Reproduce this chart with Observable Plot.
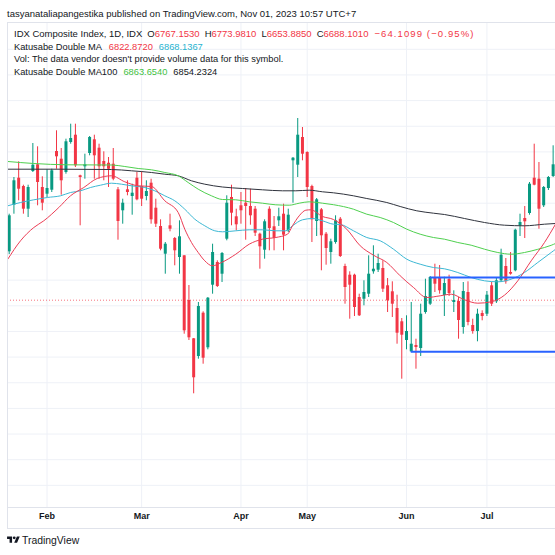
<!DOCTYPE html>
<html><head><meta charset="utf-8">
<script src="https://cdn.jsdelivr.net/npm/d3@7"></script>
<script src="https://cdn.jsdelivr.net/npm/@observablehq/plot@0.6"></script>
<style>
html,body{margin:0;padding:0;background:#fff;}
#wrap{position:relative;width:555px;height:555px;overflow:hidden;font-family:"Liberation Sans",Arial,sans-serif;color:#131722;}
#wrap > svg{position:absolute;left:0;top:0;}
.t{position:absolute;white-space:nowrap;line-height:12px;height:12px;font-size:9.3px;}
.r{color:#F23645}.c{color:#1fb3cf}.g{color:#3fbf3f}
.gp{margin-left:5px}
.chg{margin-left:6px;letter-spacing:1.1px}
.frame{position:absolute;left:7px;top:22px;width:600px;height:507px;box-sizing:border-box;border:1px solid #e0e3eb;pointer-events:none;}
.sep{position:absolute;left:7px;top:507px;width:548px;height:1px;background:#e0e3eb;}
.logo{position:absolute;left:7px;top:535px;height:12px;font-size:10.4px;line-height:12px;white-space:nowrap;}
.logo svg{vertical-align:-1px;margin-right:2px;}
</style></head><body><div id="wrap"></div>
<script>
// ---- data (daily IDX Composite, Jan–Jul 2023) ----
const open = [6784.9, 6878.1, 6932.1, 6915.5, 6870.1, 6945.5, 6958.9, 6913.5, 6900.1, 6908.1,
 6985.5, 6970.1, 6943.5, 7003.5, 7018.1, 6936.9, 6954.9, 6981.5, 7008.9, 6992.1,
 6965.5, 6962.0, 6960.1, 6908.9, 6866.9, 6908.9, 6895.5, 6932.1, 6915.5, 6895.5,
 6922.1, 6872.1, 6835.5, 6780.1, 6836.9, 6811.5, 6773.5, 6776.9, 6687.5, 6610.9,
 6575.5, 6662.1, 6592.9, 6718.1, 6763.5, 6740.1, 6810.1, 6893.5, 6854.9, 6876.9,
 6882.1, 6875.5, 6870.1, 6820.1, 6788.1, 6870.1, 6834.9, 6846.9, 6860.1, 6826.9,
 6966.9, 6958.1, 7013.5, 6983.5, 6915.5, 6845.5, 6868.9, 6820.1, 6783.5, 6803.5,
 6850.1, 6755.5, 6738.1, 6738.1, 6693.5, 6690.1, 6700.1, 6744.9, 6748.1, 6751.5,
 6716.9, 6704.9, 6671.5, 6644.9, 6607.5, 6584.9, 6597.5, 6591.5, 6663.5, 6680.1,
 6733.5, 6733.5, 6697.5, 6729.5, 6683.5, 6685.5, 6633.5, 6703.5, 6637.5, 6625.5,
 6661.5, 6660.1, 6716.9, 6684.9, 6726.9, 6755.5, 6743.5, 6746.9, 6836.9, 6851.5,
 6861.5, 6932.1, 6930.1, 6876.9, 6911.5, 6935.5];
const high = [6860.1, 6933.5, 6964.9, 6918.1, 6918.1, 7001.5, 6994.9, 6934.9, 6948.9, 6950.1,
 7026.9, 6991.5, 7010.1, 7040.1, 7040.1, 6938.1, 6980.1, 7015.5, 7018.1, 7000.1,
 6984.9, 6973.5, 6991.5, 6913.5, 6890.1, 6926.9, 6920.1, 6943.5, 6944.9, 6926.9,
 6930.1, 6890.1, 6848.9, 6803.5, 6860.1, 6813.5, 6846.9, 6776.9, 6717.5, 6611.5,
 6683.5, 6664.9, 6693.5, 6800.1, 6766.9, 6783.5, 6896.9, 6918.1, 6870.1, 6903.5,
 6911.5, 6910.1, 6875.5, 6822.1, 6848.9, 6874.9, 6855.5, 6872.1, 6880.1, 6870.1,
 6973.5, 7051.5, 7033.5, 6984.9, 6918.1, 6891.5, 6871.5, 6823.5, 6810.1, 6856.9,
 6853.5, 6760.1, 6744.9, 6740.1, 6700.1, 6726.9, 6776.9, 6796.9, 6780.1, 6766.9,
 6731.5, 6724.9, 6698.1, 6651.5, 6656.9, 6683.5, 6610.1, 6680.1, 6730.1, 6735.5,
 6760.1, 6757.5, 6734.1, 6738.1, 6706.9, 6693.5, 6723.5, 6724.9, 6650.1, 6670.1,
 6666.9, 6705.5, 6723.5, 6731.5, 6790.1, 6771.5, 6783.5, 6830.1, 6860.1, 6875.5,
 6923.5, 7000.1, 6963.5, 6915.5, 6935.5, 6996.9];
const low = [6779.5, 6860.1, 6886.9, 6860.1, 6853.5, 6943.5, 6876.9, 6866.9, 6893.5, 6903.5,
 6950.1, 6898.1, 6940.1, 7000.1, 6953.5, 6836.9, 6930.1, 6976.9, 6930.1, 6930.1,
 6926.9, 6913.5, 6926.9, 6808.1, 6840.1, 6896.9, 6858.1, 6886.9, 6875.5, 6886.9,
 6840.1, 6833.5, 6786.9, 6740.1, 6824.9, 6756.9, 6740.1, 6620.1, 6607.5, 6500.9,
 6570.1, 6560.1, 6588.9, 6700.1, 6713.5, 6723.5, 6806.9, 6836.9, 6826.9, 6840.1,
 6808.1, 6838.1, 6815.5, 6750.1, 6770.1, 6786.9, 6786.9, 6835.5, 6786.9, 6823.5,
 6882.1, 6933.5, 6966.9, 6893.5, 6803.5, 6815.5, 6746.9, 6758.1, 6760.1, 6800.1,
 6773.5, 6680.1, 6650.1, 6655.5, 6655.5, 6676.9, 6693.5, 6740.1, 6743.5, 6703.5,
 6663.5, 6653.5, 6600.1, 6530.1, 6588.9, 6583.5, 6550.1, 6575.5, 6660.1, 6677.5,
 6703.5, 6700.1, 6655.5, 6695.5, 6663.5, 6610.1, 6620.1, 6636.9, 6620.1, 6604.9,
 6646.9, 6655.5, 6675.5, 6681.5, 6723.5, 6720.1, 6738.1, 6744.9, 6815.5, 6811.5,
 6858.1, 6916.9, 6830.1, 6873.5, 6907.5, 6933.5];
const close = [6856.9, 6926.9, 6910.1, 6870.1, 6913.5, 6958.1, 6923.5, 6882.1, 6911.5, 6946.9,
 6974.9, 6926.9, 7004.9, 7011.5, 6956.9, 6933.5, 6958.9, 7013.5, 6976.9, 6954.9,
 6954.9, 6950.0, 6930.1, 6845.5, 6882.1, 6903.5, 6902.1, 6888.9, 6890.1, 6905.5,
 6848.9, 6840.1, 6790.1, 6800.1, 6830.1, 6786.9, 6814.9, 6626.9, 6612.9, 6532.9,
 6675.5, 6572.1, 6692.1, 6783.5, 6715.5, 6781.5, 6882.1, 6862.1, 6838.9, 6866.9,
 6875.5, 6856.9, 6822.1, 6794.9, 6844.9, 6831.5, 6811.5, 6854.9, 6818.1, 6858.1,
 6972.1, 7018.1, 6980.1, 6913.5, 6848.9, 6888.9, 6816.9, 6791.5, 6804.9, 6846.9,
 6775.5, 6713.5, 6718.1, 6673.5, 6656.9, 6703.5, 6740.1, 6750.1, 6761.5, 6710.1,
 6686.9, 6680.1, 6622.1, 6618.1, 6625.5, 6600.1, 6593.5, 6660.1, 6695.5, 6733.5,
 6720.1, 6706.9, 6721.5, 6701.5, 6687.5, 6647.5, 6705.5, 6643.5, 6625.5, 6660.1,
 6655.5, 6698.1, 6680.1, 6726.9, 6778.1, 6724.9, 6740.1, 6828.1, 6843.5, 6844.9,
 6920.1, 6918.1, 6870.1, 6913.5, 6933.5, 6958.9];

// moving averages, sampled (bar index, value)
const maFastX = [-0.3, 2.39, 5.2, 7.31, 10.49, 12.96, 15.77, 18.6, 21.63, 24.44, 27.27, 30.08, 32.9, 35.73, 37.12, 38.54, 39.96, 41.35, 42.94, 44.88, 47.91, 50.74, 53.55, 56.36, 58.84, 59.89, 61.31, 62.71, 63.76, 66.24, 68.56, 71.37, 74.21, 77.02, 79.83, 82.66, 85.48, 88.29, 91.12, 93.45, 96.26, 99.07, 101.9, 104.71, 107.53, 110.36, 113.17, 115.5];
const maFastY = [6770.1, 6806.9, 6833.5, 6846.9, 6873.5, 6896.9, 6913.5, 6931.5, 6936.9, 6924.9, 6916.9, 6915.5, 6886.9, 6863.5, 6830.1, 6803.5, 6783.5, 6766.9, 6756.9, 6763.5, 6780.1, 6800.1, 6810.1, 6813.5, 6820.1, 6836.9, 6856.9, 6868.1, 6868.9, 6855.5, 6849.5, 6830.1, 6796.9, 6778.1, 6763.5, 6736.9, 6713.5, 6693.5, 6696.9, 6700.1, 6688.9, 6682.1, 6684.9, 6698.1, 6726.9, 6766.9, 6803.5, 6840.1];
const maSlowX = [-0.3, 2.39, 5.2, 8.03, 10.85, 12.96, 15.07, 17.19, 19.3, 21.63, 23.74, 25.86, 28.67, 30.78, 32.9, 35.01, 37.12, 39.24, 41.35, 43.47, 45.09, 47.91, 50.74, 53.55, 56.36, 58.48, 59.89, 62.01, 64.12, 66.24, 68.56, 69.98, 72.79, 75.6, 78.44, 81.25, 84.06, 86.89, 89.7, 92.03, 94.84, 97.67, 100.49, 103.3, 106.13, 108.94, 111.75, 114.59, 115.5];
const maSlowY = [6876.9, 6883.5, 6888.9, 6893.5, 6896.9, 6903.5, 6906.9, 6913.5, 6918.1, 6922.1, 6920.1, 6916.9, 6913.5, 6906.9, 6896.9, 6886.9, 6870.1, 6850.1, 6836.9, 6826.9, 6824.9, 6826.9, 6828.9, 6828.9, 6826.9, 6826.9, 6836.9, 6848.9, 6851.5, 6846.9, 6840.1, 6839.5, 6826.9, 6813.5, 6806.9, 6790.1, 6770.1, 6760.1, 6753.5, 6750.9, 6743.5, 6733.5, 6726.9, 6724.9, 6730.1, 6743.5, 6763.5, 6783.5, 6789.9];
const ma100X = [-0.3, 5.2, 12.26, 21.63, 24.44, 27.27, 30.08, 32.9, 35.73, 37.84, 39.96, 42.77, 45.09, 47.91, 50.74, 53.55, 56.36, 59.2, 61.31, 63.42, 66.24, 68.56, 72.79, 75.6, 78.44, 81.25, 84.06, 86.89, 89.7, 92.03, 94.84, 97.67, 100.49, 103.3, 106.13, 108.94, 111.75, 114.59, 115.5];
const ma100Y = [6965.5, 6961.5, 6958.9, 6958.5, 6955.5, 6951.5, 6948.9, 6943.5, 6936.9, 6923.5, 6910.1, 6896.9, 6889.5, 6888.9, 6884.9, 6882.1, 6878.9, 6878.1, 6882.1, 6884.9, 6882.1, 6879.1, 6870.1, 6860.1, 6853.5, 6843.5, 6830.1, 6820.1, 6813.5, 6810.1, 6803.5, 6798.1, 6790.1, 6783.5, 6780.1, 6783.5, 6789.9, 6797.9, 6801.5];
const ma200X = [-0.3, 10.85, 21.63, 25.86, 30.08, 32.9, 35.73, 38.54, 41.35, 45.09, 49.32, 53.55, 57.78, 60.59, 63.42, 66.24, 68.56, 72.79, 75.6, 79.83, 82.66, 86.17, 89.7, 92.03, 96.26, 100.49, 104.71, 108.94, 113.17, 115.5];
const ma200Y = [6950.1, 6950.1, 6949.5, 6946.9, 6943.5, 6940.1, 6936.9, 6926.9, 6920.1, 6914.5, 6911.5, 6908.9, 6906.9, 6906.9, 6908.1, 6904.9, 6902.9, 6896.9, 6891.5, 6883.5, 6875.5, 6866.9, 6862.1, 6859.5, 6851.5, 6843.5, 6838.1, 6836.9, 6840.1, 6841.5];

// time axis
const monthLabels = ["Feb", "Mar", "Apr", "May", "Jun", "Jul"];
const monthIdx = [8, 28, 49, 63, 84, 101];

// price grid, last price, drawn horizontal levels
const gridLevels = [7189.9, 7138.6, 7087.3, 7036.0, 6984.7, 6933.4, 6882.1, 6830.8, 6779.5, 6728.2,
 6676.9, 6625.6, 6574.3, 6523.0, 6471.7, 6420.4, 6369.1, 6317.8];
const lastClose = 6688.1;
const levelPrices = [6733.5, 6584.9];
const levelStart = [89, 85];

// ---- chart ----
const xDomain = [-0.36, 115.5];
const yDomain = [6273.5, 7243.5];
const UP = "#089981", DOWN = "#F23645";
const candles = open.map((o, i) => ({i, o, h: high[i], l: low[i], c: close[i], col: close[i] >= o ? UP : DOWN}));
const pts = (xs, ys) => xs.map((x, k) => ({x, y: ys[k]}));

const chart = Plot.plot({
  width: 555, height: 555,
  marginTop: 22, marginBottom: 48, marginLeft: 7, marginRight: 0,
  x: {domain: xDomain, axis: null},
  y: {domain: yDomain, axis: null},
  color: {type: "identity"},
  style: {fontFamily: "'Liberation Sans', Arial, sans-serif", background: "#fff", overflow: "visible"},
  marks: [
    Plot.ruleY(gridLevels, {stroke: "#eef1f7", strokeWidth: 1}),
    Plot.ruleX(monthIdx, {stroke: "#eef1f7", strokeWidth: 1}),
    Plot.ruleY([lastClose], {stroke: "#F23645", strokeOpacity: 0.7, strokeDasharray: "1,2"}),
    Plot.ruleX(candles, {x: "i", y1: "l", y2: "h", stroke: "col", strokeWidth: 1}),
    Plot.ruleX(candles, {x: "i", y1: "o", y2: "c", stroke: "col", strokeWidth: 3}),
    Plot.line(pts(ma200X, ma200Y), {x: "x", y: "y", stroke: "#2f333d", strokeWidth: 1, curve: "monotone-x"}),
    Plot.line(pts(ma100X, ma100Y), {x: "x", y: "y", stroke: "#4fd04f", strokeWidth: 1, curve: "monotone-x"}),
    Plot.line(pts(maSlowX, maSlowY), {x: "x", y: "y", stroke: "#3db8d4", strokeWidth: 1, curve: "monotone-x"}),
    Plot.line(pts(maFastX, maFastY), {x: "x", y: "y", stroke: "#ec3d55", strokeWidth: 1, curve: "monotone-x"}),
    Plot.ruleY(levelPrices, {y: d => d, x1: (d, i) => levelStart[i], x2: xDomain[1], stroke: "#2962ff", strokeWidth: 2}),
    Plot.text(monthIdx, {x: d => d, text: (d, i) => monthLabels[i], frameAnchor: "bottom", dy: 11.5,
      fontSize: 9, fontWeight: 700, fill: "#131722"})
  ]
});

const wrap = document.getElementById("wrap");
wrap.appendChild(chart);
wrap.insertAdjacentHTML("beforeend", `
<div class="frame"></div>
<div class="sep"></div>
<div class="t" style="left:7px;top:8px;font-size:9.5px;">tasyanataliapangestika published on TradingView.com, Nov 01, 2023 10:57 UTC+7</div>
<div class="t" style="left:14px;top:28px;font-size:9.5px;">IDX Composite Index, 1D, IDX<span class="gp">O<span class="r">6767.1530</span></span><span class="gp">H<span class="r">6773.9810</span></span><span class="gp">L<span class="r">6653.8850</span></span><span class="gp">C<span class="r">6688.1010</span></span><span class="r chg">−64.1099 (−0.95%)</span></div>
<div class="t" style="left:14px;top:40.5px;">Katusabe Double MA<span class="r" style="margin-left:7px">6822.8720</span><span class="c" style="margin-left:6px">6868.1367</span></div>
<div class="t" style="left:14px;top:53px;">Vol: The data vendor doesn't provide volume data for this symbol.</div>
<div class="t" style="left:14px;top:65.5px;">Katusabe Double MA100<span class="g" style="margin-left:6px">6863.6540</span><span style="margin-left:6px">6854.2324</span></div>
<div class="logo"><svg width="13" height="10" viewBox="0 0 36 28"><path d="M14 22H7V11H0V4h14v18zM28 22h-8l7.5-18h8L28 22z" fill="#131722"/><circle cx="20" cy="8" r="4" fill="#131722"/></svg>TradingView</div>
`);
</script>
</body></html>
